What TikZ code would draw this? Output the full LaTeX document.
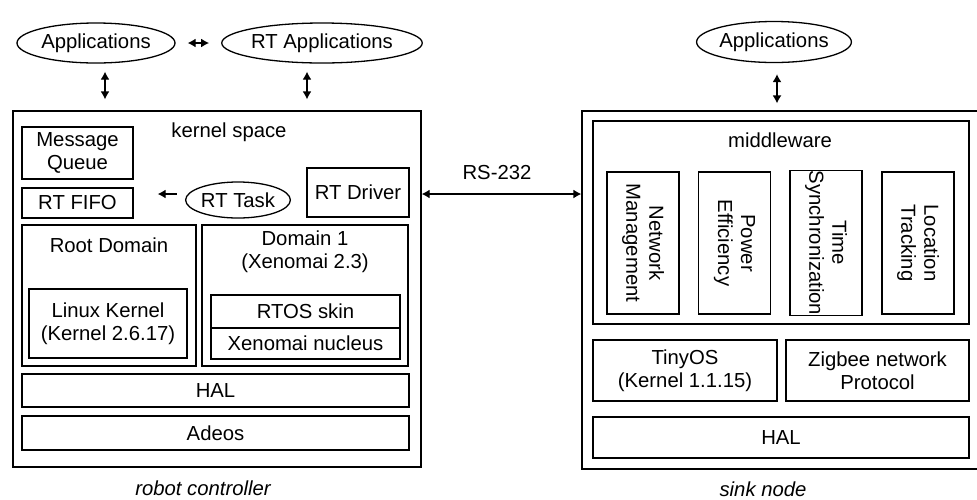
\documentclass[tikz,border=0pt]{standalone}
\usepackage{fontspec}
\setmainfont{Liberation Sans}
\usetikzlibrary{shapes.geometric,arrows.meta}
\tikzset{
  every node/.style={font=\fontsize{20.3}{23}\selectfont, text=black},
  blk/.style={draw, line width=1.3pt, inner sep=0pt, align=center},
  oval/.style={draw, ellipse, line width=1.3pt, inner sep=0pt},
  lbl/.style={inner sep=0pt},
  captext/.style={inner sep=0pt, anchor=base, font=\fontsize{20.3}{23}\selectfont\itshape},
  dbl/.style={line width=1.3pt, {Latex[length=8pt,width=9pt]}-{Latex[length=8pt,width=9pt]}},
  sgl/.style={line width=1.3pt, -{Latex[length=8pt,width=9pt]}},
}
\begin{document}
\begin{tikzpicture}[x=1pt,y=-1pt]
\clip (0,0) rectangle (977,499);

% ---------------- robot controller ----------------
\node[oval, minimum width=158, minimum height=40] (appL) at (96,43) {Applications};
\node[oval, minimum width=195, minimum height=40] (appRT) at (322,43) {RT Applications};

\node[blk, minimum width=408, minimum height=356] (kbox) at (217,289) {};
\node[lbl] (kspace) at (229,132) {kernel space};

\node[blk, minimum width=111, minimum height=52] (mq) at (77.5,153) {Message\\Queue};
\node[blk, minimum width=111, minimum height=30] (fifo) at (77.5,203) {RT FIFO};
\node[oval, minimum width=90, minimum height=36] (rttask) at (238,200) {RT Task};
\node[blk, minimum width=102, minimum height=49] (rtdrv) at (358,192.5) {RT Driver};

\node[blk, minimum width=174, minimum height=141] (root) at (109,295.5) {};
\node[lbl] (rootlbl) at (109,245) {Root Domain};
\node[blk, minimum width=158, minimum height=69] (linux) at (108,323.5) {Linux Kernel\\(Kernel 2.6.17)};

\node[blk, minimum width=206, minimum height=141] (dom1) at (305,295.5) {};
\node[lbl] (dom1a) at (305,238) {Domain 1};
\node[lbl] (dom1b) at (305,263) {(Xenomai 2.3)};
\node[blk, minimum width=189, minimum height=33] (rtos) at (305.5,311.5) {RTOS skin};
\node[blk, minimum width=189, minimum height=31] (nucleus) at (305.5,343.5) {Xenomai nucleus};

\node[blk, minimum width=387, minimum height=33] (halL) at (215.5,390.5) {HAL};
\node[blk, minimum width=387, minimum height=34] (adeos) at (215.5,433) {Adeos};

\node[captext] (robot) at (203,495) {robot controller};

% ---------------- sink node ----------------
\node[oval, minimum width=154, minimum height=41] (appS) at (774,42) {Applications};

\node[blk, minimum width=403, minimum height=358] (sbox) at (783.5,290) {};
\node[blk, minimum width=376, minimum height=203] (mw) at (781,222.5) {};
\node[lbl] (mwlbl) at (780,140) {middleware};

\node[blk, rotate=-90, minimum width=142, minimum height=72] (netm) at (643,243) {Network\\Management};
\node[blk, rotate=-90, minimum width=142, minimum height=72] (power) at (734.5,243) {Power\\Efficiency};
\node[blk, rotate=-90, minimum width=142, minimum height=72] (tsync) at (826,243) {Time\\Synchronization};
\node[blk, rotate=-90, minimum width=142, minimum height=72] (loc) at (918,243) {Location\\Tracking};

\node[blk, minimum width=184, minimum height=61] (tiny) at (685,370.5) {TinyOS\\(Kernel 1.1.15)};
\node[blk, minimum width=183, minimum height=61] (zig) at (877.5,370.5) {Zigbee network\\Protocol};
\node[blk, minimum width=376, minimum height=41] (halR) at (781,437.5) {HAL};

\node[captext] (sink) at (763,496) {sink node};

% ---------------- connectors ----------------
\coordinate (xa) at (105,0);
\coordinate (xb) at (307,0);
\coordinate (xc) at (777,0);
\coordinate (yt) at (0,194);

\draw[dbl, shorten <=12pt, shorten >=12pt] (appL.east) -- (appRT.west);
\draw[dbl, shorten <=8pt, shorten >=11pt] (appL.south -| xa) -- (kbox.north -| xa);
\draw[dbl, shorten <=8pt, shorten >=11pt] (appRT.south -| xb) -- (kbox.north -| xb);
\draw[dbl, shorten <=11pt, shorten >=7pt] (appS.south -| xc) -- (sbox.north -| xc);

\draw[sgl, shorten <=8pt, shorten >=24pt] (rttask.west |- yt) -- (fifo.east |- yt);

\draw[dbl] (kbox.east |- yt) -- (sbox.west |- yt);
\node[lbl] (rs) at (497,173) {RS-232};
\end{tikzpicture}
\end{document}
